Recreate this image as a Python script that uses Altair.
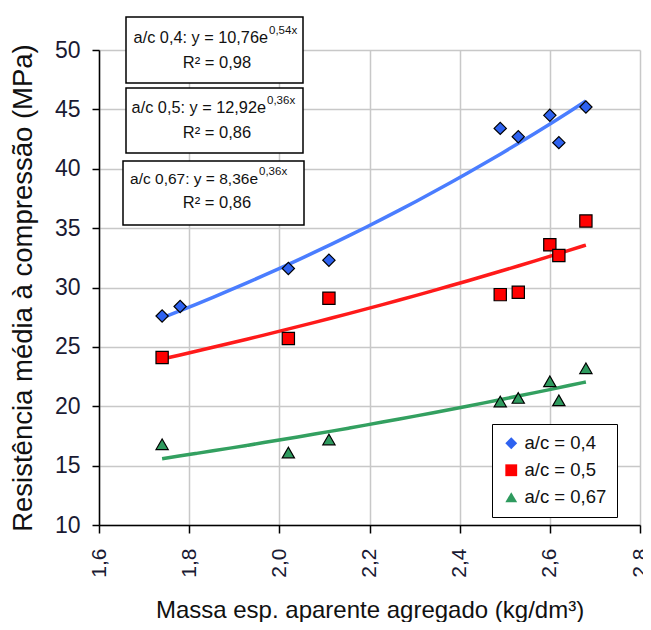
import altair as alt
import pandas as pd

# ---- data ----
series_names = ["a/c = 0,4", "a/c = 0,5", "a/c = 0,67"]

x_04 = [1.74, 1.78, 2.02, 2.11, 2.49, 2.53, 2.60, 2.62, 2.68]
y_04 = [27.6, 28.4, 31.6, 32.3, 43.4, 42.7, 44.5, 42.2, 45.2]

x_05 = [1.74, 2.02, 2.11, 2.49, 2.53, 2.60, 2.62, 2.68]
y_05 = [24.1, 25.7, 29.1, 29.4, 29.6, 33.6, 32.7, 35.6]

x_067 = [1.74, 2.02, 2.11, 2.49, 2.53, 2.60, 2.62, 2.68]
y_067 = [16.8, 16.1, 17.2, 20.4, 20.7, 22.1, 20.5, 23.2]

eq_main = ["a/c 0,4: y = 10,76e", "a/c 0,5: y = 12,92e", "a/c 0,67: y = 8,36e"]
eq_sup = ["0,54x", "0,36x", "0,36x"]
eq_r2 = ["R² = 0,98", "R² = 0,86", "R² = 0,86"]

x_ticks = [1.6, 1.8, 2.0, 2.2, 2.4, 2.6, 2.8]
y_ticks = [10, 15, 20, 25, 30, 35, 40, 45, 50]

rows = []
for name, xs, ys in zip(series_names, [x_04, x_05, x_067], [y_04, y_05, y_067]):
    for a, b in zip(xs, ys):
        rows.append({"serie": name, "x": a, "y": b})
df = pd.DataFrame(rows)

point_colors = ["#2e62f0", "#ff0000", "#2e9a5e"]
line_colors = ["#4a7dff", "#ff1a1a", "#33a060"]
FONT = "Liberation Sans"

base = alt.Chart(df)

xscale = alt.Scale(domain=[1.6, 2.8], nice=False, zero=False)
yscale = alt.Scale(domain=[10, 50], nice=False, zero=False)

x_enc = alt.X(
    "x:Q", scale=xscale,
    axis=alt.Axis(
        values=x_ticks,
        labelExpr="replace(format(datum.value, '.1f'), '.', ',')",
        labelAngle=270, labelAlign="right", labelBaseline="middle",
        labelFontSize=21, labelPadding=15,
        tickSize=8, title="Massa esp. aparente agregado (kg/dm³)",
        titleFontSize=24, titleFontWeight="normal", titlePadding=21,
    ),
)
y_enc = alt.Y(
    "y:Q", scale=yscale,
    axis=alt.Axis(
        values=y_ticks, labelFontSize=23, labelPadding=12, tickSize=7,
        title="Resistência média à compressão (MPa)",
        titleFontSize=27.5, titleFontWeight="normal", titlePadding=17,
    ),
)

lines = base.transform_regression(
    "x", "y", groupby=["serie"], method="exp", extent=[1.74, 2.68]
).mark_line(strokeWidth=3.5, interpolate="monotone").encode(
    x=x_enc, y=y_enc,
    color=alt.Color("serie:N", scale=alt.Scale(domain=series_names, range=line_colors), legend=None),
)

legend_def = alt.Legend(
    title=None, orient="none", legendX=393, legendY=374,
    strokeColor="black", fillColor="white", padding=10,
    labelFontSize=18.5, symbolSize=140, rowPadding=8,
    symbolStrokeColor="black", symbolStrokeWidth=1.2,
    labelLimit=200, symbolOpacity=1,
)

points = base.mark_point(filled=True, stroke="black", strokeWidth=1.2, opacity=1, size=150).encode(
    x=alt.X("x:Q", scale=xscale),
    y=alt.Y("y:Q", scale=yscale),
    color=alt.Color(
        "serie:N",
        scale=alt.Scale(domain=series_names, range=point_colors),
        legend=legend_def,
    ),
    shape=alt.Shape(
        "serie:N",
        scale=alt.Scale(domain=series_names, range=["diamond", "square", "triangle-up"]),
        legend=legend_def,
    ),
)

dummy = alt.Data(values=[{}])

# annotation boxes (pixel positions relative to plot origin)
boxes_px = [(27, 204, -33, 33), (27, 204, 38, 103), (24, 205, 111, 175)]
main_px = [(169, -12), (167, 58), (159, 129)]
main_fs = [16.3, 16.3, 15.5]
r2_px = [(118, 13), (118, 83), (118, 153)]

ann_layers = []
for i in range(3):
    x1, x2, y1, y2 = boxes_px[i]
    ann_layers.append(
        alt.Chart(dummy).mark_rect(fill="white", stroke="black", strokeWidth=1.5).encode(
            x=alt.value(x1), x2=alt.value(x2), y=alt.value(y1), y2=alt.value(y2)
        )
    )
    mx, my = main_px[i]
    ann_layers.append(
        alt.Chart(dummy).mark_text(align="right", baseline="middle", fontSize=main_fs[i], font=FONT, color="#111").encode(
            x=alt.value(mx), y=alt.value(my), text=alt.value(eq_main[i])
        )
    )
    ann_layers.append(
        alt.Chart(dummy).mark_text(align="left", baseline="middle", fontSize=11.5, font=FONT, color="#111").encode(
            x=alt.value(mx + 1), y=alt.value(my - 7), text=alt.value(eq_sup[i])
        )
    )
    rx, ry = r2_px[i]
    ann_layers.append(
        alt.Chart(dummy).mark_text(align="center", baseline="middle", fontSize=16.5, font=FONT, color="#111").encode(
            x=alt.value(rx), y=alt.value(ry), text=alt.value(eq_r2[i])
        )
    )

chart = alt.layer(lines, *ann_layers, points).resolve_scale(
    color="independent", shape="independent"
).properties(
    width=541, height=475,
    autosize=alt.AutoSizeParams(type="none"),
    padding={"left": 91, "top": 42, "right": 3, "bottom": 97},
).configure_view(stroke=None).configure_axis(
    labelFont=FONT, titleFont=FONT, labelColor="#1a1a33", titleColor="#111",
    domainColor="black", domainWidth=1.5, tickColor="black", tickWidth=1.5,
    gridColor="#c8c8c8", gridWidth=1.5,
).configure_legend(labelFont=FONT, labelColor="#111")

chart.save("out.html", embed_options={"renderer": "svg", "actions": False})
